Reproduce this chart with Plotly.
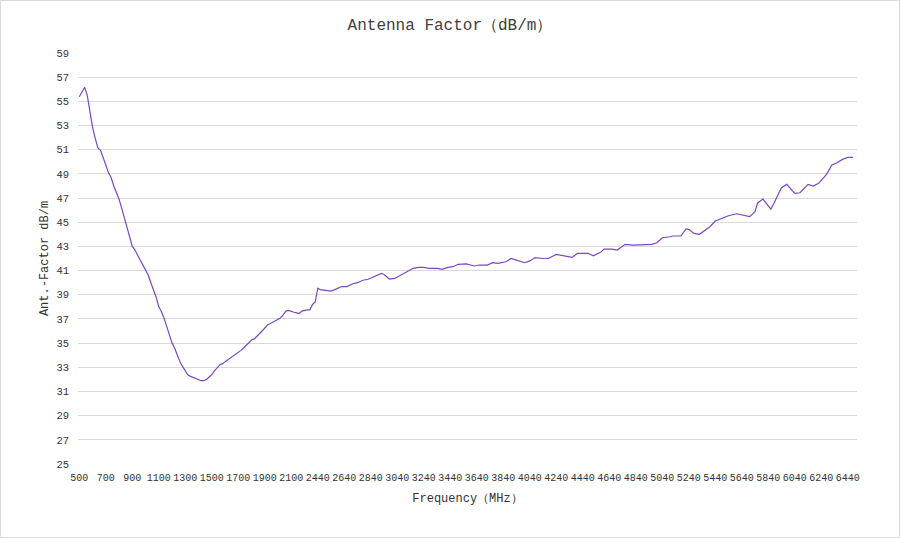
import plotly.graph_objects as go

# Category axis: frequencies (MHz) of every measurement slot
low_band = [500 + 20 * i for i in range(90)]          # 500 .. 2280
high_band = [2440 + 20 * i for i in range(203)]       # 2440 .. 6480
freq_categories = [str(f) for f in low_band + high_band]

# Tick labels shown on the x axis (every 10th category)
tick_labels = [str(f) for f in
               [500, 700, 900, 1100, 1300, 1500, 1700, 1900, 2100,
                2440, 2640, 2840, 3040, 3240, 3440, 3640, 3840, 4040, 4240,
                4440, 4640, 4840, 5040, 5240, 5440, 5640, 5840, 6040, 6240, 6440]]

# Points (frequency MHz, antenna factor dB/m)
freq_low_read = [500] + list(range(540, 2281, 20))
af_low_read = [
    55.38, 56.16, 55.5, 54.2, 52.85, 51.94, 51.15, 50.95, 50.42, 49.73, 49.1, 48.7,
    48.0, 47.52, 46.9, 46.15, 45.4, 44.5, 43.7, 43.0, 42.7, 42.2, 41.85, 41.45, 41.0,
    40.63, 40.0, 39.4, 38.8, 38.0, 37.6, 37.05, 36.4, 35.7, 35.0, 34.57, 33.95, 33.45,
    33.05, 32.7, 32.36, 32.25, 32.15, 32.08, 32.0, 31.89, 31.89, 32.0, 32.2, 32.4, 32.7,
    32.95, 33.2, 33.3, 33.45, 33.6, 33.75, 33.95, 34.1, 34.25, 34.4, 34.6, 34.85, 35.05,
    35.26, 35.35, 35.55, 35.8, 36.0, 36.25, 36.5, 36.6, 36.72, 36.85, 36.97, 37.1, 37.35,
    37.65, 37.7, 37.6, 37.55, 37.5, 37.45, 37.65, 37.72, 37.75, 37.75, 38.2, 38.4,
]
freq_high_read = [
    2440, 2460, 2500, 2540, 2560, 2600, 2620, 2660, 2700, 2740, 2780, 2820, 2860,
    2900, 2920, 2940, 2980, 3020, 3060, 3100, 3160, 3200, 3240, 3280, 3340,
    3380, 3420, 3460, 3500, 3560, 3620, 3660, 3720, 3760, 3800, 3860, 3900,
    3940, 4000, 4040, 4080, 4140, 4180, 4240, 4300, 4360, 4400, 4480, 4520,
    4580, 4600, 4660, 4700, 4760, 4820, 4880, 4960, 5000, 5040, 5100, 5120,
    5180, 5220, 5240, 5280, 5320, 5340, 5400, 5440, 5480, 5540, 5600, 5640,
    5700, 5740, 5760, 5800, 5840, 5860, 5880, 5920, 5940, 5980, 6000, 6040,
    6080, 6100, 6140, 6180, 6220, 6280, 6320, 6360, 6400, 6440, 6480,
]
af_high_read = [
    39.55, 39.42, 39.35, 39.3, 39.38, 39.6, 39.68, 39.68, 39.89, 40.0, 40.2, 40.28, 40.5,
    40.7, 40.77, 40.68, 40.3, 40.35, 40.6, 40.88, 41.19, 41.27, 41.27, 41.19, 41.19,
    41.1, 41.27, 41.32, 41.52, 41.55, 41.38, 41.46, 41.46, 41.65, 41.6, 41.73, 42.0,
    41.87, 41.65, 41.8, 42.08, 42.0, 42.0, 42.34, 42.23, 42.09, 42.43, 42.43, 42.23,
    42.55, 42.78, 42.78, 42.7, 43.17, 43.11, 43.11, 43.17, 43.3, 43.72, 43.8, 43.86,
    43.86, 44.44, 44.41, 44.08, 44.0, 44.16, 44.63, 45.1, 45.26, 45.54, 45.7, 45.62,
    45.46, 45.87, 46.6, 46.92, 46.4, 46.09, 46.5, 47.39, 47.85, 48.13, 47.85, 47.39,
    47.44, 47.7, 48.13, 47.99, 48.22, 48.96, 49.73, 49.92, 50.2, 50.37, 50.37,
]

y_ticks = list(range(25, 60, 2))

W, H = 900, 538
ML, MR, MT, MB = 78, 43, 53, 74
pw, ph = W - ML - MR, H - MT - MB

fig = go.Figure()
fig.add_trace(go.Scatter(
    x=[str(f) for f in freq_low_read + freq_high_read], y=af_low_read + af_high_read,
    mode="lines", line=dict(color="#7b47c2", width=1.2),
    hoverinfo="x+y", showlegend=False,
))

mono = "Liberation Mono, DejaVu Sans Mono, monospace"
fig.update_layout(
    width=W, height=H,
    margin=dict(l=ML, r=MR, t=MT, b=MB, autoexpand=False),
    paper_bgcolor="white", plot_bgcolor="white",
    title=dict(text="Antenna Factor（dB/m）", x=0.5, xanchor="center", y=1 - 24 / H,
               yanchor="middle", font=dict(family=mono, size=16, color="#404040")),
    xaxis=dict(type="category", categoryorder="array", categoryarray=freq_categories,
               range=[-0.5, len(freq_categories) + 0.5],
               tickmode="array", tickvals=tick_labels, ticktext=tick_labels,
               showgrid=False, zeroline=False, showline=False, ticks="",
               ticklabelstandoff=6,
               tickfont=dict(family=mono, size=10, color="#333333"),
               title=dict(text="Frequency（MHz）", standoff=10,
                          font=dict(family=mono, size=12, color="#333333"))),
    yaxis=dict(range=[25, 59], tickmode="array", tickvals=y_ticks,
               showgrid=True, gridcolor="#d9d9d9", gridwidth=1, zeroline=False,
               showline=False, ticks="", ticklabelstandoff=8,
               tickfont=dict(family=mono, size=10.5, color="#333333"),
               title=dict(text="Ant.-Factor dB/m", standoff=5,
                          font=dict(family=mono, size=12, color="#333333"))),
)
# Light border around the whole chart
fig.add_shape(type="rect", xref="paper", yref="paper",
              x0=(-ML + 0.5) / pw, x1=1 + (MR - 0.5) / pw,
              y0=(-MB + 0.5) / ph, y1=1 + (MT - 0.5) / ph,
              line=dict(color="#d9d9d9", width=1), layer="below")

fig.write_html("out.html",
               config={"displayModeBar": False},
               post_script="document.body.style.margin='0';"
                           "document.body.style.overflow='hidden';")
